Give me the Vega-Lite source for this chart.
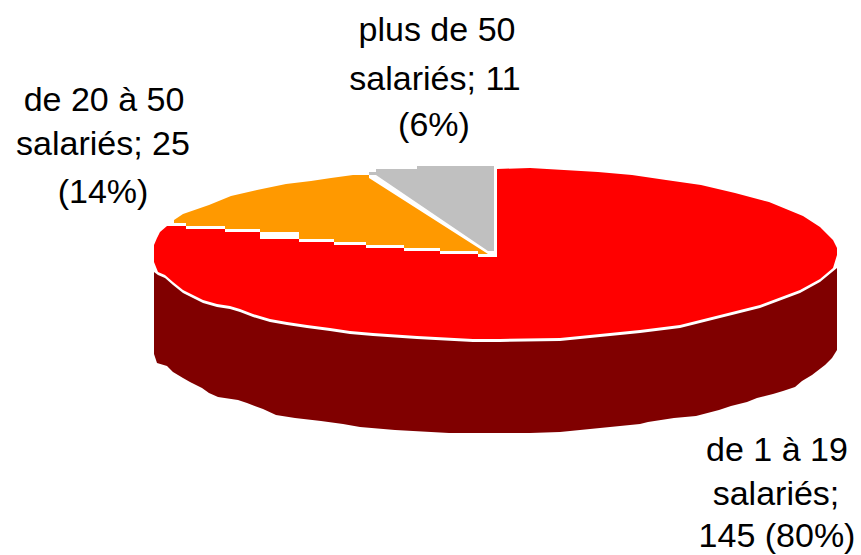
{"$schema":"https://vega.github.io/schema/vega-lite/v6.json","width":861,"height":555,"autosize":{"type":"none"},"padding":0,"background":"white","view":{"stroke":null},
"encoding":{"x":{"field":"x","type":"quantitative","scale":{"domain":[0,861],"nice":false,"zero":false},"axis":null},"y":{"field":"y","type":"quantitative","scale":{"domain":[555,0],"nice":false,"zero":false},"axis":null}},
"layer":[
{"mark":{"type":"line","filled":true,"color":"#800000","strokeWidth":0},"encoding":{"order":{"value":null}},"data":{"values":[{"x":154,"y":272},{"x":158,"y":275},{"x":165,"y":278},{"x":173,"y":285},{"x":183,"y":293},{"x":195,"y":299},{"x":203,"y":303},{"x":217,"y":307},{"x":230,"y":309},{"x":240,"y":312},{"x":253,"y":317},{"x":270,"y":322},{"x":287,"y":325},{"x":307,"y":328},{"x":330,"y":331},{"x":350,"y":334},{"x":373,"y":336},{"x":417,"y":339},{"x":473,"y":342},{"x":500,"y":342},{"x":560,"y":341},{"x":640,"y":333},{"x":680,"y":328},{"x":720,"y":318},{"x":760,"y":308},{"x":800,"y":293},{"x":820,"y":282},{"x":837,"y":268},{"x":837,"y":350},{"x":832,"y":358},{"x":825,"y":365},{"x":812,"y":375},{"x":802,"y":381},{"x":795,"y":387},{"x":783,"y":391},{"x":773,"y":394},{"x":757,"y":398},{"x":747,"y":402},{"x":731,"y":406},{"x":719,"y":410},{"x":696,"y":416},{"x":674,"y":418},{"x":648,"y":422},{"x":640,"y":424},{"x":600,"y":428},{"x":560,"y":432},{"x":530,"y":433},{"x":449,"y":433},{"x":395,"y":430},{"x":360,"y":427},{"x":343,"y":424},{"x":321,"y":421},{"x":295,"y":418},{"x":276,"y":415},{"x":263,"y":409},{"x":247,"y":403},{"x":238,"y":400},{"x":218,"y":397},{"x":209,"y":393},{"x":202,"y":388},{"x":190,"y":382},{"x":183,"y":378},{"x":173,"y":372},{"x":167,"y":366},{"x":157,"y":363},{"x":154,"y":354}]}},
{"mark":{"type":"line","filled":true,"color":"#FF0000","strokeWidth":0},"encoding":{"order":{"value":null}},"data":{"values":[{"x":154,"y":262},{"x":154,"y":245},{"x":157,"y":238},{"x":160,"y":232},{"x":167,"y":226},{"x":186,"y":226},{"x":186,"y":229},{"x":225,"y":229},{"x":225,"y":232},{"x":260,"y":232},{"x":260,"y":239},{"x":299,"y":239},{"x":299,"y":242},{"x":334,"y":242},{"x":334,"y":245},{"x":366,"y":245},{"x":366,"y":248},{"x":404,"y":248},{"x":404,"y":251},{"x":440,"y":251},{"x":440,"y":254},{"x":478,"y":254},{"x":478,"y":257},{"x":497,"y":257},{"x":497,"y":169},{"x":530,"y":168},{"x":564,"y":170},{"x":598,"y":172},{"x":632,"y":175},{"x":666,"y":180},{"x":701,"y":185},{"x":735,"y":193},{"x":769,"y":202},{"x":803,"y":216},{"x":820,"y":227},{"x":833,"y":240},{"x":837,"y":248},{"x":837,"y":255},{"x":833,"y":268},{"x":820,"y":279},{"x":800,"y":290},{"x":760,"y":305},{"x":720,"y":315},{"x":680,"y":325},{"x":640,"y":330},{"x":560,"y":338},{"x":500,"y":339},{"x":473,"y":339},{"x":417,"y":336},{"x":373,"y":333},{"x":350,"y":331},{"x":330,"y":328},{"x":307,"y":325},{"x":287,"y":322},{"x":270,"y":319},{"x":253,"y":314},{"x":240,"y":309},{"x":230,"y":306},{"x":217,"y":304},{"x":203,"y":300},{"x":195,"y":296},{"x":183,"y":290},{"x":173,"y":282},{"x":165,"y":275},{"x":158,"y":272}]}},
{"mark":{"type":"line","filled":true,"color":"#FF9900","strokeWidth":0},"encoding":{"order":{"value":null}},"data":{"values":[{"x":174,"y":223},{"x":174,"y":220},{"x":183,"y":214},{"x":209,"y":205},{"x":231,"y":196},{"x":257,"y":190},{"x":286,"y":184},{"x":311,"y":181},{"x":331,"y":178},{"x":353,"y":175},{"x":369,"y":175},{"x":369,"y":178},{"x":488,"y":254},{"x":478,"y":254},{"x":478,"y":251},{"x":440,"y":251},{"x":440,"y":248},{"x":404,"y":248},{"x":404,"y":245},{"x":366,"y":245},{"x":366,"y":242},{"x":334,"y":242},{"x":334,"y":239},{"x":299,"y":239},{"x":299,"y":232},{"x":260,"y":232},{"x":260,"y":229},{"x":225,"y":229},{"x":225,"y":226},{"x":186,"y":226},{"x":186,"y":223}]}},
{"mark":{"type":"line","filled":true,"color":"#C0C0C0","strokeWidth":0},"encoding":{"order":{"value":null}},"data":{"values":[{"x":369,"y":172},{"x":376,"y":172},{"x":376,"y":169},{"x":417,"y":169},{"x":417,"y":166},{"x":494,"y":166},{"x":494,"y":251},{"x":488,"y":251},{"x":376,"y":175},{"x":369,"y":175}]}},
{"mark":{"type":"text","font":"Liberation Sans","fontSize":34,"color":"#000000","align":"center","baseline":"alphabetic"},"encoding":{"text":{"field":"t","type":"nominal"}},"data":{"values":[{"x":104,"y":111,"t":"de 20 à 50"},{"x":103,"y":155,"t":"salariés; 25"},{"x":103,"y":203,"t":"(14%)"},{"x":437,"y":41,"t":"plus de 50"},{"x":435,"y":90,"t":"salariés; 11"},{"x":434,"y":136,"t":"(6%)"},{"x":777,"y":461,"t":"de 1 à 19"},{"x":776,"y":505,"t":"salariés;"},{"x":777,"y":547,"t":"145 (80%)"}]}}
]}
